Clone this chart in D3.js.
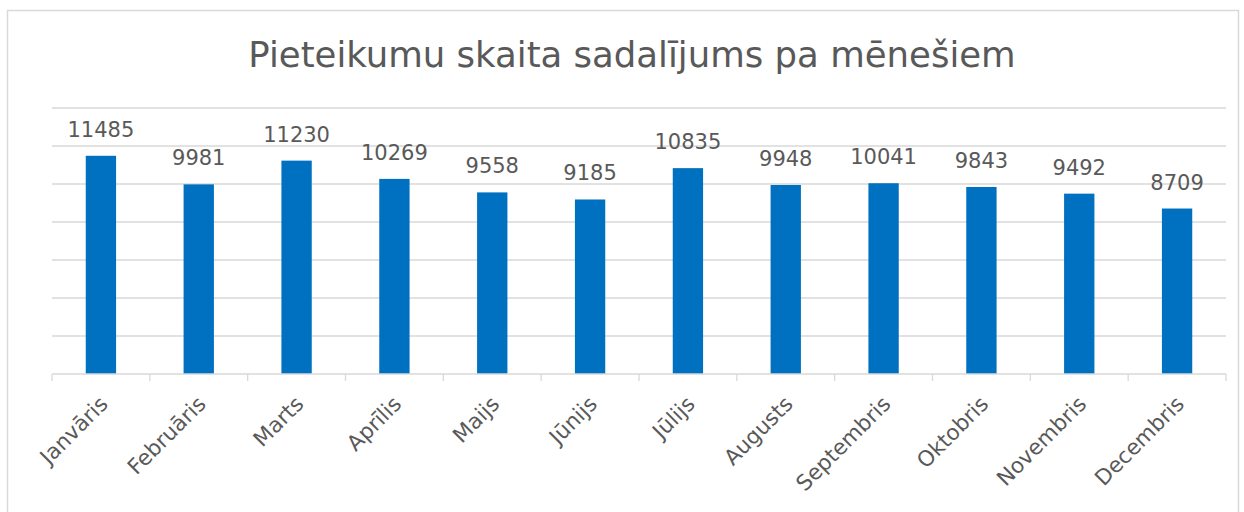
<!DOCTYPE html>
<html>
<head>
<meta charset="utf-8">
<script src="https://cdn.jsdelivr.net/npm/d3@7"></script>
<style>
    body { margin: 0; background: #fff; }
    text { font-family: "Century Gothic", "DejaVu Sans", sans-serif; fill: #595959; }
</style>
</head>
<body>
<div id="chart"></div>
<script>
// data
const months = ['Janvāris', 'Februāris', 'Marts', 'Aprīlis', 'Maijs', 'Jūnijs',
    'Jūlijs', 'Augusts', 'Septembris', 'Oktobris', 'Novembris', 'Decembris'];
const counts = [11485, 9981, 11230, 10269, 9558, 9185, 10835, 9948, 10041, 9843, 9492, 8709];
const gridTicks = [0, 2000, 4000, 6000, 8000, 10000, 12000, 14000];
const title = 'Pieteikumu skaita sadalījums pa mēnešiem';

const W = 1244, H = 512;
const margin = { top: 108, right: 18, bottom: 138, left: 52 };
const width = W - margin.left - margin.right;
const height = H - margin.top - margin.bottom;

const svg = d3.select('#chart')
    .append('svg')
    .attr('width', W)
    .attr('height', H);

// chart frame
svg.append('rect')
    .attr('x', 7.5).attr('y', 10.5)
    .attr('width', 1231).attr('height', 520)
    .attr('fill', 'none')
    .attr('stroke', '#d9d9d9')
    .attr('stroke-width', 1.5);

svg.append('text')
    .attr('x', 632)
    .attr('y', 67)
    .attr('text-anchor', 'middle')
    .style('font-size', '35.5px')
    .text(title);

const group = svg.append('g')
    .attr('transform', 'translate(' + margin.left + ',' + margin.top + ')');

const xScale = d3.scaleBand().domain(months).range([0, width]).paddingInner(0.69).paddingOuter(0.345);
const yScale = d3.scaleLinear().domain([0, 14000]).range([height, 0]);

// gridlines
group.selectAll('.grid')
    .data(gridTicks.slice(1))
    .enter()
    .append('line')
    .attr('x1', 0).attr('x2', width)
    .attr('y1', d => yScale(d)).attr('y2', d => yScale(d))
    .attr('stroke', '#d9d9d9')
    .attr('stroke-width', 1.3);

// bars
group.selectAll('rect.bar')
    .data(counts)
    .enter()
    .append('rect')
    .attr('class', 'bar')
    .attr('x', (d, i) => xScale(months[i]))
    .attr('y', d => yScale(d))
    .attr('width', xScale.bandwidth())
    .attr('height', d => height - yScale(d))
    .attr('fill', '#0070c0');

// value labels
group.selectAll('text.val')
    .data(counts)
    .enter()
    .append('text')
    .attr('class', 'val')
    .attr('x', (d, i) => xScale(months[i]) + xScale.bandwidth() / 2)
    .attr('y', d => yScale(d) - 19)
    .attr('text-anchor', 'middle')
    .style('font-size', '21px')
    .text(d => d);

// x axis with ticks at category edges
const edge = d3.scaleLinear().domain([0, months.length]).range([0, width]);
const xAxis = group.append('g').attr('transform', 'translate(0,' + height + ')');
xAxis.append('line')
    .attr('x1', 0).attr('x2', width)
    .attr('stroke', '#d9d9d9').attr('stroke-width', 1.3);
xAxis.selectAll('.tick')
    .data(d3.range(months.length + 1))
    .enter()
    .append('line')
    .attr('x1', d => edge(d)).attr('x2', d => edge(d))
    .attr('y1', 0).attr('y2', 7)
    .attr('stroke', '#d9d9d9').attr('stroke-width', 1.3);

xAxis.selectAll('text.lbl')
    .data(months)
    .enter()
    .append('text')
    .attr('class', 'lbl')
    .attr('transform', d => 'translate(' + (xScale(d) + xScale.bandwidth() / 2 + 3) + ',26) rotate(-45)')
    .attr('text-anchor', 'end')
    .attr('dy', '0.35em')
    .style('font-size', '21.5px')
    .text(d => d);
</script>
</body>
</html>
